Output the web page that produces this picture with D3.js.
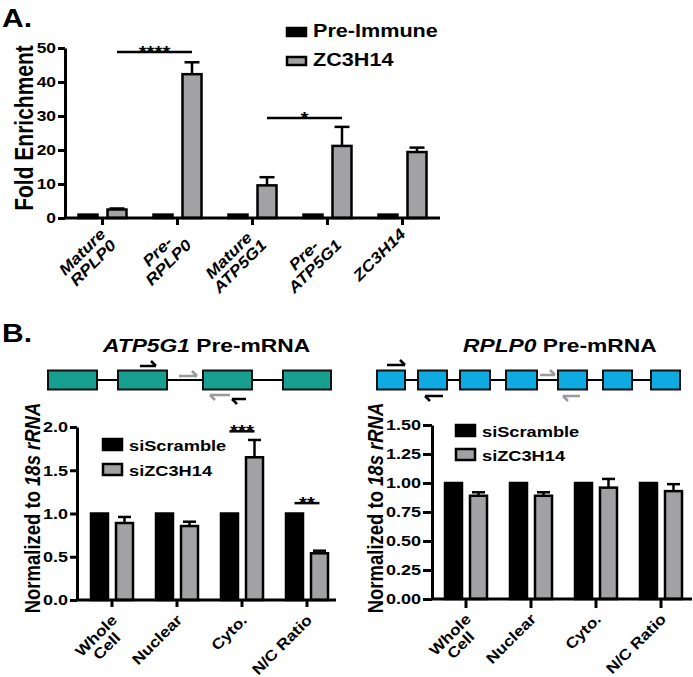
<!DOCTYPE html>
<html>
<head>
<meta charset="utf-8">
<script src="https://cdn.jsdelivr.net/npm/d3@7"></script>
<style>
  body { margin: 0; background: #fff; }
  text { font-family: "Liberation Sans", Arial, sans-serif; font-weight: bold; }
</style>
</head>
<body>
<svg id="fig" width="693" height="677"></svg>
<script>
// ---- data ----
// A: RIP fold enrichment
const ripCats = [['Mature', 'RPLP0'], ['Pre-', 'RPLP0'], ['Mature', 'ATP5G1'], ['Pre-', 'ATP5G1'], ['ZC3H14']];
const ripPreImmune = [1, 1, 1, 1, 1];
const ripZC3H14 = [2.5, 42.3, 9.6, 21.2, 19.4];
const ripZC3H14Err = [0.3, 3.5, 2.4, 5.6, 1.3];
const ripTicks = [0, 10, 20, 30, 40, 50];
const ripLegend = ['Pre-Immune', 'ZC3H14'];
const ripSig = [
  { from: [0, 1], to: [1, 1], value: 48.8, label: '****' },
  { from: [2, 1], to: [3, 1], value: 29.4, label: '*' }
];

// B: fractionation, normalized to 18s rRNA
const fracCats = [['Whole', 'Cell'], ['Nuclear'], ['Cyto.'], ['N/C Ratio']];
const fracLegend = ['siScramble', 'siZC3H14'];
const atpScramble = [1, 1, 1, 1];
const atpSiZC3H14 = [0.89, 0.855, 1.65, 0.54];
const atpSiZC3H14Err = [0.07, 0.05, 0.2, 0.03];
const atpTicks = [0, 0.5, 1, 1.5, 2];
const atpSig = [
  { from: [2, 0], to: [2, 1], value: 1.95, label: '***' },
  { from: [3, 0], to: [3, 1], value: 1.12, label: '**' }
];
const rplpScramble = [1, 1, 1, 1];
const rplpSiZC3H14 = [0.89, 0.89, 0.96, 0.93];
const rplpSiZC3H14Err = [0.03, 0.03, 0.075, 0.06];
const rplpTicks = [0, 0.25, 0.5, 0.75, 1, 1.25, 1.5];

// gene schematics (schematic units from the first exon start)
const atpExons = [[0, 49], [70, 119], [155, 204], [235, 283]];
const atpPrimers = [
  { x0: 92, x1: 108, dy: -14, dir: 1, color: '#000' },
  { x0: 131, x1: 149, dy: -4, dir: 1, color: '#9a9a9a' },
  { x0: 162, x1: 182, dy: 15, dir: -1, color: '#9a9a9a' },
  { x0: 184, x1: 198, dy: 19, dir: -1, color: '#000' }
];
const rplpExons = [[0, 28], [41, 70], [83, 113], [129, 160], [181, 210], [226, 255], [274, 303]];
const rplpPrimers = [
  { x0: 10, x1: 28, dy: -15, dir: 1, color: '#000' },
  { x0: 48, x1: 66, dy: 16, dir: -1, color: '#000' },
  { x0: 163, x1: 178, dy: -5, dir: 1, color: '#9a9a9a' },
  { x0: 186, x1: 203, dy: 16, dir: -1, color: '#9a9a9a' }
];

// ---- drawing ----
const SX = 1.2;  // the source figure is stretched sideways, text included
const GRAY = '#a2a2a5';
const svg = d3.select('#fig');

function stretched(g, x, y, rot) {
  return g.append('text')
    .attr('transform', `translate(${x},${y}) scale(${SX},1)` + (rot ? ` rotate(${rot})` : ''));
}

// slanted tick labels: lines centred on each other, block ends at (x, y)
function catLabel(g, lines, x, y, size, italic) {
  const t = g.append('g').attr('transform', `translate(${x},${y}) rotate(-45) scale(1.15,1)`);
  const texts = lines.map((s, i) => t.append('text')
    .attr('y', i * size)
    .attr('text-anchor', 'middle')
    .attr('font-size', size)
    .attr('font-style', italic ? 'italic' : null)
    .text(s));
  const w = d3.max(texts, n => n.node().getComputedTextLength());
  texts.forEach(n => n.attr('x', -w / 2));
}

function barChart(g, o) {
  const x = d3.scaleBand().domain(o.cats.map((d, i) => i)).range(o.xRange);
  const y = d3.scaleLinear().domain(o.yDomain).range(o.yRange);
  const cx = (i, s) => x(i) + x.bandwidth() / 2 + (s ? o.off : -o.off);

  [o.ctrl, o.test].forEach((vals, s) => {
    g.append('g').selectAll('rect').data(vals).join('rect')
      .attr('x', (d, i) => cx(i, s) - o.barW / 2)
      .attr('y', d => y(d))
      .attr('width', o.barW)
      .attr('height', d => y(0) - y(d))
      .attr('fill', s ? GRAY : '#000')
      .attr('stroke', '#000')
      .attr('stroke-width', 2.5);
  });

  // mean + SEM, only the upper half is shown
  const err = g.append('g').attr('stroke', '#000').attr('stroke-width', 2.5);
  o.test.forEach((v, i) => {
    const top = y(v + o.testErr[i]);
    err.append('line').attr('x1', cx(i, 1)).attr('x2', cx(i, 1)).attr('y1', y(v)).attr('y2', top);
    err.append('line').attr('x1', cx(i, 1) - o.capW / 2).attr('x2', cx(i, 1) + o.capW / 2).attr('y1', top).attr('y2', top);
  });

  // y axis
  const ya = g.append('g')
    .attr('transform', `translate(${o.axisX},0)`)
    .call(d3.axisLeft(y).tickValues(o.ticks).tickFormat(o.fmt).tickSize(o.tickLen).tickSizeOuter(0).tickPadding(2))
    .attr('font-size', o.tickFont);
  ya.select('.domain').attr('stroke-width', 3);
  ya.selectAll('.tick line').attr('stroke-width', 3);
  ya.selectAll('.tick text').each(function () {
    const t = d3.select(this);
    t.attr('transform', `translate(${t.attr('x')},0) scale(${SX},1)`).attr('x', 0);
  });

  // x axis
  const y0 = y(0);
  g.append('line')
    .attr('x1', o.axisX - 1).attr('x2', o.xEnd)
    .attr('y1', y0).attr('y2', y0)
    .attr('stroke', '#000').attr('stroke-width', 3);
  o.cats.forEach((lines, i) => {
    const c = x(i) + x.bandwidth() / 2;
    g.append('line').attr('x1', c).attr('x2', c).attr('y1', y0).attr('y2', y0 + o.tickLen)
      .attr('stroke', '#000').attr('stroke-width', 3);
    catLabel(g, lines, c + o.labelDx, y0 + o.labelDy, o.labelFont, o.italicCats);
  });

  // significance brackets
  (o.sig || []).forEach(s => {
    const yy = y(s.value);
    g.append('line')
      .attr('x1', cx(s.from[0], s.from[1])).attr('x2', cx(s.to[0], s.to[1]))
      .attr('y1', yy).attr('y2', yy)
      .attr('stroke', '#000').attr('stroke-width', 2.5);
    stretched(g, (cx(s.from[0], s.from[1]) + cx(s.to[0], s.to[1])) / 2, yy + 6)
      .attr('text-anchor', 'middle').attr('font-size', 17).text(s.label);
  });
}

function legend(g, x, ys, labels, size, boxH) {
  labels.forEach((lab, i) => {
    g.append('rect')
      .attr('x', x).attr('y', ys[i] - boxH - 1).attr('width', 19).attr('height', boxH)
      .attr('fill', i ? GRAY : '#000').attr('stroke', '#000').attr('stroke-width', 2.5);
    stretched(g, x + 26, ys[i]).attr('font-size', size).text(lab);
  });
}

function yTitle(g, x, y, size, parts) {
  const t = stretched(g, x, y, -90).attr('text-anchor', 'middle').attr('font-size', size);
  parts.forEach(p => t.append('tspan').attr('font-style', p[1] ? 'italic' : null).text(p[0]));
}

function geneDiagram(g, x0, x1, yMid, exons, primers, fill) {
  const s = d3.scaleLinear().domain([0, exons[exons.length - 1][1]]).range([x0, x1]);
  g.append('line').attr('x1', s(0)).attr('x2', s.range()[1]).attr('y1', yMid).attr('y2', yMid)
    .attr('stroke', '#000').attr('stroke-width', 2);
  g.append('g').selectAll('rect').data(exons).join('rect')
    .attr('x', d => s(d[0])).attr('y', yMid - 9.5)
    .attr('width', d => s(d[1]) - s(d[0])).attr('height', 19)
    .attr('fill', fill).attr('stroke', '#111').attr('stroke-width', 2);
  primers.forEach(p => {
    const yy = yMid + p.dy;
    const tip = p.dir > 0 ? s(p.x1) : s(p.x0);
    const barb = p.dir > 0 ? `L${tip - 5},${yy - 5}` : `L${tip + 5},${yy + 5}`;
    g.append('path')
      .attr('d', `M${s(p.x0)},${yy}H${s(p.x1)}M${tip},${yy}${barb}`)
      .attr('fill', 'none').attr('stroke', p.color).attr('stroke-width', 2.5);
  });
}

// ---------- panel A ----------
const pA = svg.append('g');
stretched(pA, 2, 27).attr('font-size', 25).text('A.');
barChart(pA, {
  cats: ripCats, ctrl: ripPreImmune, test: ripZC3H14, testErr: ripZC3H14Err,
  xRange: [65, 440], yDomain: [0, 50], yRange: [218, 48],
  axisX: 65, xEnd: 440, ticks: ripTicks, fmt: d3.format('d'), tickLen: 7, tickFont: 14.5,
  barW: 19, off: 14.5, capW: 15,
  labelDx: 4, labelDy: 17, labelFont: 15.5, italicCats: true,
  sig: ripSig
});
yTitle(pA, 33, 128, 21, [['Fold Enrichment', false]]);
legend(pA, 287, [37, 66], ripLegend, 18, 8);

// ---------- panel B ----------
const pB = svg.append('g');
stretched(pB, 2, 342).attr('font-size', 25).text('B.');

const tL = stretched(pB, 103, 352).attr('font-size', 19);
tL.append('tspan').attr('font-style', 'italic').text('ATP5G1');
tL.append('tspan').text(' Pre-mRNA');
const tR = stretched(pB, 463, 352).attr('font-size', 19);
tR.append('tspan').attr('font-style', 'italic').text('RPLP0');
tR.append('tspan').text(' Pre-mRNA');

geneDiagram(pB, 48, 331, 380, atpExons, atpPrimers, '#179f90');
geneDiagram(pB, 377, 680, 380, rplpExons, rplpPrimers, '#0eaae2');

barChart(pB, {
  cats: fracCats, ctrl: atpScramble, test: atpSiZC3H14, testErr: atpSiZC3H14Err,
  xRange: [79.5, 339.5], yDomain: [0, 2], yRange: [600, 427],
  axisX: 77, xEnd: 336, ticks: atpTicks, fmt: d3.format('.1f'), tickLen: 7, tickFont: 15,
  barW: 17, off: 12.5, capW: 13,
  labelDx: 6, labelDy: 21, labelFont: 15, italicCats: false,
  sig: atpSig
});
legend(pB, 103, [451, 476], fracLegend, 15.2, 11);
yTitle(pB, 40, 508, 18.5, [['Normalized to ', false], ['18s rRNA', true]]);

barChart(pB, {
  cats: fracCats, ctrl: rplpScramble, test: rplpSiZC3H14, testErr: rplpSiZC3H14Err,
  xRange: [433.5, 693.5], yDomain: [0, 1.5], yRange: [599, 425],
  axisX: 432, xEnd: 692, ticks: rplpTicks, fmt: d3.format('.2f'), tickLen: 9, tickFont: 15,
  barW: 17, off: 12.5, capW: 13,
  labelDx: 6, labelDy: 21, labelFont: 15, italicCats: false
});
legend(pB, 456, [437, 461], fracLegend, 15.2, 11);
yTitle(pB, 383, 508, 18.5, [['Normalized to ', false], ['18s rRNA', true]]);
</script>
</body>
</html>
